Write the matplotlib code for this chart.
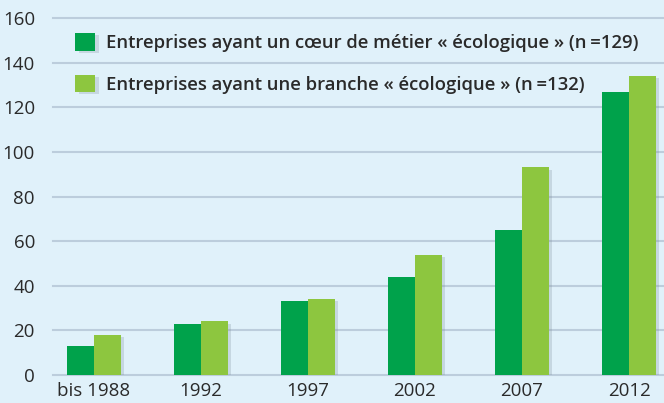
import matplotlib.pyplot as plt
import matplotlib.patheffects as pe
import numpy as np

plt.rcParams['font.family'] = ['Open Sans', 'DejaVu Sans']

# Daten
years = ['bis 1988', '1992', '1997', '2002', '2007', '2012']
coeur = [13, 23, 33, 44, 65, 127]
branche = [18, 24, 34, 54, 93, 134]
labels = ['Entreprises ayant un cœur de métier « écologique » (n\u2009=129)',
          'Entreprises ayant une branche « écologique » (n\u2009=132)']

bg = '#e0f1fa'
grid_c = '#bccddc'
dark = '#00a24b'
light = '#8dc63f'
txt = '#2a2a2a'

fig = plt.figure(figsize=(6.64, 4.03), dpi=100, facecolor=bg)
ax = fig.add_axes([53/664, 1 - 375/403, 1 - 53/664, (375 - 18)/403])
ax.set_facecolor(bg)

x = np.arange(len(years))
w = 0.25
shadow = [pe.SimplePatchShadow(offset=(2.5, -1.5), shadow_rgbFace='#7a8a98', alpha=0.25), pe.Normal()]
b1 = ax.bar(x - w/2, coeur, w, color=dark, zorder=3, label=labels[0])
b2 = ax.bar(x + w/2, branche, w, color=light, zorder=3, label=labels[1])
for b in list(b1) + list(b2):
    b.set_path_effects(shadow)

for v in range(0, 161, 20):
    ax.axhline(v, color=grid_c, lw=1.5, zorder=1, clip_on=False)

ax.set_xlim(-0.383, 5.327)
ax.set_ylim(0, 160)
ax.set_yticks(range(0, 161, 20))
ax.set_xticks(x)
ax.set_xticklabels(years)
ax.tick_params(length=0, labelsize=13.5, colors=txt, pad=5)
ax.tick_params(axis='y', pad=13)
for s in ax.spines.values():
    s.set_visible(False)

leg = ax.legend(handles=[b1, b2], loc='upper left', bbox_to_anchor=(0.0245, 0.978),
                frameon=False, fontsize=13.3, handlelength=1.08, handleheight=1.08,
                handletextpad=0.6, labelspacing=1.22, borderaxespad=0)
for t in leg.get_texts():
    t.set_color(txt)
    t.set_fontweight('semibold')

fig.savefig('out.png', dpi=100, facecolor=bg)
